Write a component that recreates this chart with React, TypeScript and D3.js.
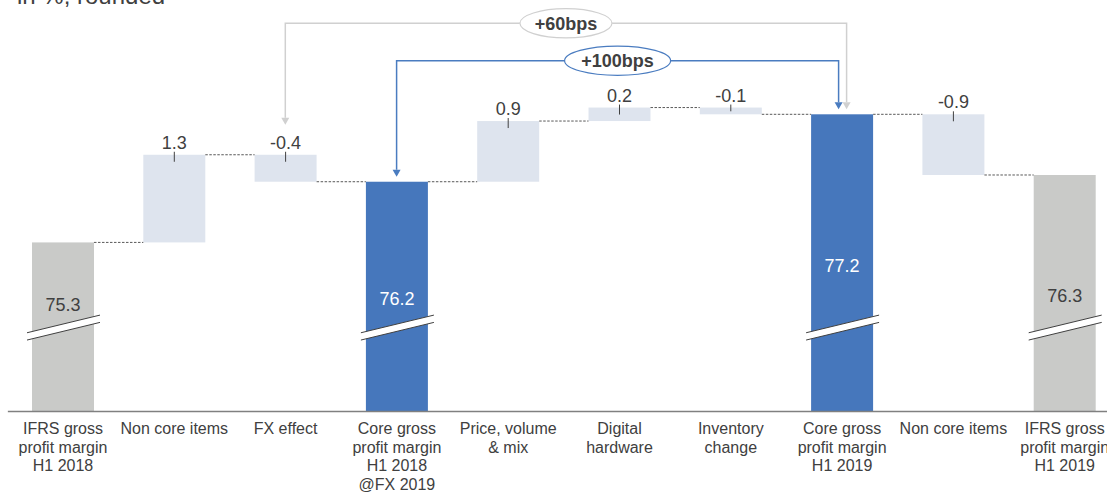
import React, { useEffect, useRef } from "react";
import * as d3 from "d3";

// ---- data ----
const categories: string[][] = [
  ["IFRS gross", "profit margin", "H1 2018"],
  ["Non core items"],
  ["FX effect"],
  ["Core gross", "profit margin", "H1 2018", "@FX 2019"],
  ["Price, volume", "& mix"],
  ["Digital", "hardware"],
  ["Inventory", "change"],
  ["Core gross", "profit margin", "H1 2019"],
  ["Non core items"],
  ["IFRS gross", "profit margin", "H1 2019"],
];
const values: number[] = [75.3, 1.3, -0.4, 76.2, 0.9, 0.2, -0.1, 77.2, -0.9, 76.3];
const kinds: string[] = ["ifrs", "delta", "delta", "core", "delta", "delta", "delta", "core", "delta", "ifrs"];
const bridges = [
  { label: "+60bps", from: 2, to: 7, tone: "grey" },
  { label: "+100bps", from: 3, to: 7, tone: "blue" },
];
const axisFloor = 72.8; // value where the broken axis starts
const title = "in %, rounded";

// ---- styling ----
const W = 1107;
const H = 493;
const FONT = "'Liberation Sans', Arial, Helvetica, sans-serif";
const TEXT = "#404040";
const COLORS: Record<string, string> = { ifrs: "#c9cac8", core: "#4677bc", delta: "#dee4ee" };
const BRIDGE_COLORS: Record<string, string> = { grey: "#d0d0d0", blue: "#4a7cc0" };
// nudge of the value label above the axis break on the total bars
const totalLabelLift: Record<number, number> = { 0: 23, 3: 29, 7: 62, 9: 32 };

export default function App() {
  const ref = useRef<SVGSVGElement | null>(null);

  useEffect(() => {
    const svg = d3.select(ref.current);
    svg.selectAll("*").remove();

    const ids = categories.map((_, i) => String(i));
    const x = d3
      .scaleBand<string>()
      .domain(ids)
      .range([7.35, 1120.35])
      .paddingInner(0.443)
      .paddingOuter(0.2215);
    const y = d3.scaleLinear().domain([axisFloor, 77.2]).range([411, 114.3]);
    const bw = x.bandwidth();
    const cx = (i: number) => (x(String(i)) as number) + bw / 2;

    // running waterfall extents
    let level = 0;
    const bars = values.map((v, i) => {
      let start: number, end: number;
      if (kinds[i] === "delta") {
        start = level;
        end = level + v;
      } else {
        start = axisFloor;
        end = v;
      }
      level = end;
      return { i, v, kind: kinds[i], start, end, top: Math.max(start, end), bottom: Math.min(start, end) };
    });

    // title (partially above the page)
    svg
      .append("text")
      .attr("x", 17)
      .attr("y", 4)
      .attr("font-family", FONT)
      .attr("font-size", 24)
      .attr("fill", TEXT)
      .text(title);

    // bars
    svg
      .append("g")
      .selectAll("rect")
      .data(bars)
      .join("rect")
      .attr("x", (d) => x(String(d.i)) as number)
      .attr("width", bw)
      .attr("y", (d) => y(d.top))
      .attr("height", (d) => y(d.bottom) - y(d.top))
      .attr("fill", (d) => COLORS[d.kind]);

    // dashed connectors between neighbouring bars
    svg
      .append("g")
      .selectAll("line")
      .data(bars.slice(0, -1))
      .join("line")
      .attr("x1", (d) => (x(String(d.i)) as number) + bw)
      .attr("x2", (d) => x(String(d.i + 1)) as number)
      .attr("y1", (d) => y(d.end))
      .attr("y2", (d) => y(d.end))
      .attr("stroke", "#595959")
      .attr("stroke-width", 1)
      .attr("stroke-dasharray", "2.5 1.5");

    // delta ticks and labels
    const deltas = bars.filter((d) => d.kind === "delta");
    svg
      .append("g")
      .selectAll("line")
      .data(deltas)
      .join("line")
      .attr("x1", (d) => cx(d.i))
      .attr("x2", (d) => cx(d.i))
      .attr("y1", (d) => y(d.top) - 3)
      .attr("y2", (d) => Math.min(y(d.top) + 7, y(d.bottom) - 3))
      .attr("stroke", TEXT)
      .attr("stroke-width", 1);
    svg
      .append("g")
      .selectAll("text")
      .data(deltas)
      .join("text")
      .attr("x", (d) => cx(d.i))
      .attr("y", (d) => y(d.top) - 6)
      .attr("text-anchor", "middle")
      .attr("font-family", FONT)
      .attr("font-size", 18)
      .attr("fill", TEXT)
      .text((d) => d.v.toFixed(1));

    // axis-break marks on the total bars
    const breakY = 327.7;
    const slope = -0.242;
    const gap = 3.65;
    const totals = bars.filter((d) => d.kind !== "delta");
    const brk = svg.append("g").selectAll("g").data(totals).join("g");
    brk.each(function (d) {
      const g = d3.select(this);
      const c = cx(d.i);
      const x0 = (x(String(d.i)) as number) - 5;
      const x1 = (x(String(d.i)) as number) + bw + 6;
      const yc = (xx: number) => breakY + slope * (xx - c);
      g.append("polygon")
        .attr(
          "points",
          [
            [x0, yc(x0) - gap],
            [x1, yc(x1) - gap],
            [x1, yc(x1) + gap],
            [x0, yc(x0) + gap],
          ]
            .map((p) => p.join(","))
            .join(" ")
        )
        .attr("fill", "#ffffff");
      [-gap, gap].forEach((o) => {
        g.append("line")
          .attr("x1", x0)
          .attr("y1", yc(x0) + o)
          .attr("x2", x1)
          .attr("y2", yc(x1) + o)
          .attr("stroke", TEXT)
          .attr("stroke-width", 1);
      });
      g.append("text")
        .attr("x", c)
        .attr("y", breakY - totalLabelLift[d.i] + 6.5)
        .attr("text-anchor", "middle")
        .attr("font-family", FONT)
        .attr("font-size", 18)
        .attr("fill", d.kind === "core" ? "#ffffff" : TEXT)
        .text(d.v.toFixed(1));
    });

    // bottom axis line
    const axis = svg
      .append("g")
      .attr("transform", "translate(0,411)")
      .call(
        d3
          .axisBottom(x)
          .tickSize(0)
          .tickFormat(() => "")
      );
    axis.select(".domain").attr("stroke", "#808080").attr("stroke-width", 1.5);

    // category labels
    const labels = svg
      .append("g")
      .selectAll("text")
      .data(categories)
      .join("text")
      .attr("x", (_, i) => cx(i))
      .attr("y", 434)
      .attr("text-anchor", "middle")
      .attr("font-family", FONT)
      .attr("font-size", 16)
      .attr("fill", TEXT);
    labels
      .selectAll("tspan")
      .data((d) => d)
      .join("tspan")
      .attr("x", function () {
        return (this.parentNode as SVGTextElement).getAttribute("x");
      })
      .attr("dy", (_, j) => (j === 0 ? 0 : 18.7))
      .text((t) => t);

    // bridge arrows with bps badges
    const levels: Record<string, number> = { grey: 23.3, blue: 60.7 };
    const offsets: Record<string, number> = { grey: 4.5, blue: -3.5 };
    bridges.forEach((b) => {
      const col = BRIDGE_COLORS[b.tone];
      const yl = levels[b.tone];
      const xa = cx(b.from) - 0.3;
      const xb = cx(b.to) + offsets[b.tone];
      const fromBar = bars[b.from];
      const tipA = fromBar.kind === "delta" ? y(fromBar.top) - 30 : y(fromBar.top) - 5;
      const tipB = y(bars[b.to].top) - 5;
      const ah = 7;
      const aw = 4;
      svg
        .append("path")
        .attr("d", `M${xa},${tipA - ah} V${yl} H${xb} V${tipB - ah}`)
        .attr("fill", "none")
        .attr("stroke", col)
        .attr("stroke-width", 1.5);
      [
        [xa, tipA],
        [xb, tipB],
      ].forEach(([ax, ay]) => {
        svg
          .append("path")
          .attr("d", `M${ax - aw},${ay - ah} L${ax + aw},${ay - ah} L${ax},${ay} Z`)
          .attr("fill", col);
      });
      const mx = (xa + xb) / 2;
      const rx = b.tone === "grey" ? 46 : 53;
      svg
        .append("ellipse")
        .attr("cx", mx)
        .attr("cy", yl)
        .attr("rx", rx)
        .attr("ry", 14.6)
        .attr("fill", "#ffffff")
        .attr("stroke", col)
        .attr("stroke-width", 1.2);
      svg
        .append("text")
        .attr("x", mx)
        .attr("y", yl + 6.5)
        .attr("text-anchor", "middle")
        .attr("font-family", FONT)
        .attr("font-size", 18)
        .attr("font-weight", "bold")
        .attr("fill", TEXT)
        .text(b.label);
    });
  }, []);

  return (
    <svg
      ref={ref}
      width={W}
      height={H}
      viewBox={`0 0 ${W} ${H}`}
      style={{ position: "absolute", left: 0, top: 0, display: "block", background: "#ffffff" }}
    />
  );
}
